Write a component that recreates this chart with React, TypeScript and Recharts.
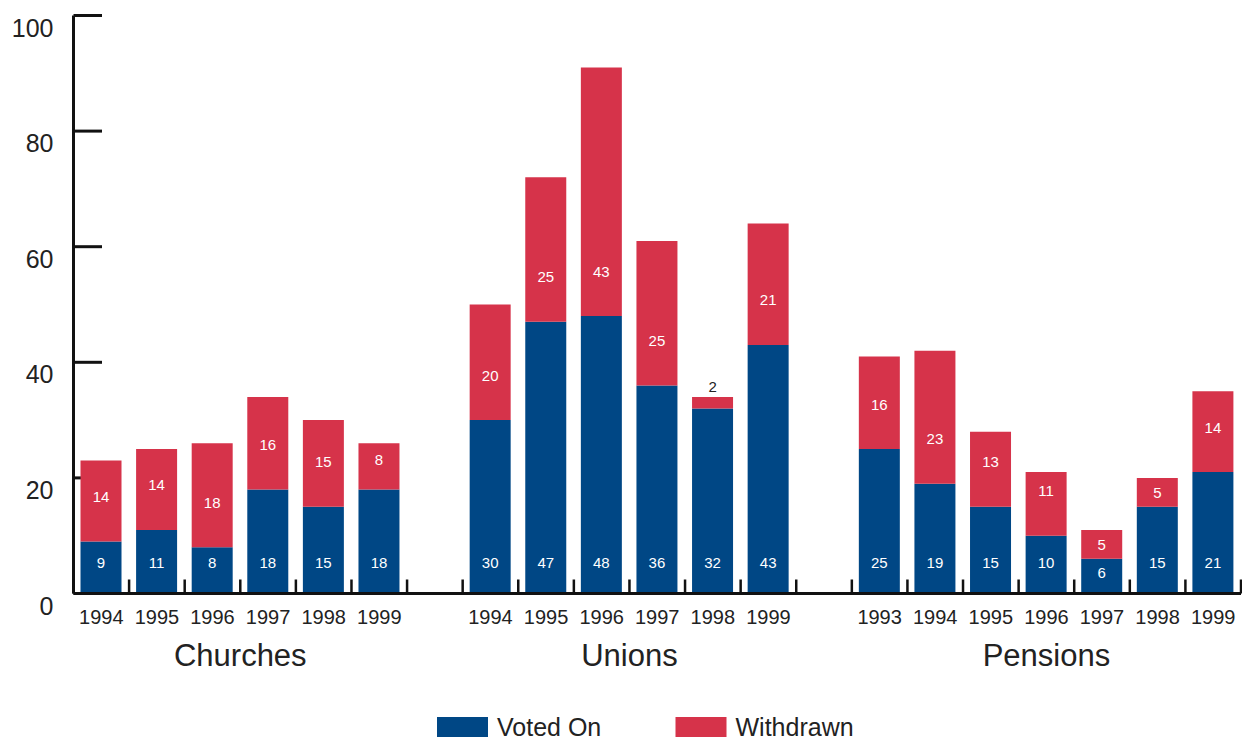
import React from 'react';
import { BarChart, Bar, XAxis, YAxis, LabelList, Legend, CartesianGrid } from 'recharts';

// Shareholder proposals by sponsor type, per proxy season
const churchYears = ['1994', '1995', '1996', '1997', '1998', '1999'];
const churchVoted = [9, 11, 8, 18, 15, 18];
const churchWithdrawn = [14, 14, 18, 16, 15, 8];

const unionYears = ['1994', '1995', '1996', '1997', '1998', '1999'];
const unionVoted = [30, 47, 48, 36, 32, 43];
const unionWithdrawn = [20, 25, 43, 25, 2, 21];

const pensionYears = ['1993', '1994', '1995', '1996', '1997', '1998', '1999'];
const pensionVoted = [25, 19, 15, 10, 6, 15, 21];
const pensionWithdrawn = [16, 23, 13, 11, 5, 5, 14];

const groupNames = ['Churches', 'Unions', 'Pensions'];
const seriesNames = ['Voted On', 'Withdrawn'];
const yTicks = [0, 20, 40, 60, 80, 100];

type Row = {
  key: string;
  year: string;
  voted?: number;
  withdrawn?: number;
  group?: string;
  groupSize?: number;
};

const groups = [
  { name: groupNames[0], years: churchYears, voted: churchVoted, withdrawn: churchWithdrawn },
  { name: groupNames[1], years: unionYears, voted: unionVoted, withdrawn: unionWithdrawn },
  { name: groupNames[2], years: pensionYears, voted: pensionVoted, withdrawn: pensionWithdrawn },
];

// One category per bar, with an empty category between sponsor groups
const rows: Row[] = [];
groups.forEach((g, gi) => {
  if (gi > 0) rows.push({ key: `gap-${gi}`, year: '' });
  g.years.forEach((yr, i) =>
    rows.push({
      key: `${g.name}-${yr}`,
      year: yr,
      voted: g.voted[i],
      withdrawn: g.withdrawn[i],
      group: i === 0 ? g.name : undefined,
      groupSize: g.years.length,
    })
  );
});
const rowByKey = new Map(rows.map((r) => [r.key, r]));

// Layout
const W = 1242;
const H = 740;
const PLOT_LEFT = 73.5;
const PLOT_TOP = 15.5;
const PLOT_BOTTOM = 593.5;
const RIGHT_MARGIN = 1;
const SLOT = (W - PLOT_LEFT - RIGHT_MARGIN) / rows.length;

const BLUE = '#004785';
const RED = '#d6334a';
const INK = '#222222';
const AXIS = '#111111';
const FONT = '"Liberation Sans", Arial, Helvetica, sans-serif';

function XTick(props: any) {
  const { x, y, payload } = props;
  const row = rowByKey.get(payload.value);
  if (!row) return null;
  const left = x - SLOT / 2;
  const isLast = row === rows[rows.length - 1];
  return (
    <g>
      <line x1={left} x2={left} y1={y} y2={y - 14} stroke={AXIS} strokeWidth={2.5} />
      {isLast && <line x1={x + SLOT / 2} x2={x + SLOT / 2} y1={y} y2={y - 14} stroke={AXIS} strokeWidth={2.5} />}
      {row.year && (
        <text x={x} y={y + 30} textAnchor="middle" fontSize={20} fill={INK} fontFamily={FONT}>
          {row.year}
        </text>
      )}
      {row.group && (
        <text
          x={x + ((row.groupSize ?? 1) - 1) * SLOT / 2}
          y={y + 72.5}
          textAnchor="middle"
          fontSize={31}
          fill={INK}
          fontFamily={FONT}
        >
          {row.group}
        </text>
      )}
    </g>
  );
}

function YTick(props: any) {
  const { x, y, payload } = props;
  return (
    <text x={x - 20} y={y + 21} textAnchor="end" fontSize={25} fill={INK} fontFamily={FONT}>
      {payload.value}
    </text>
  );
}

// Short inward tick marks on the value axis, drawn underneath the bars
function ValueTickMark(props: any) {
  const { x1, y1 } = props;
  return <line x1={x1} x2={x1 + 28.5} y1={y1} y2={y1} stroke={AXIS} strokeWidth={3} />;
}

function boxOf(props: any) {
  const vb = props.viewBox && props.viewBox.width != null ? props.viewBox : props;
  return { x: Number(vb.x), y: Number(vb.y), width: Number(vb.width), height: Number(vb.height) };
}

function VotedLabel(props: any) {
  const { value } = props;
  if (value == null) return null;
  const { x, y, width, height } = boxOf(props);
  const cy = y + height - Math.min(31, Math.max(height / 2, height - 14));
  return (
    <text x={x + width / 2} y={cy} textAnchor="middle" dominantBaseline="central" fontSize={15} fill="#ffffff" fontFamily={FONT}>
      {value}
    </text>
  );
}

function WithdrawnLabel(props: any) {
  const { value } = props;
  if (value == null) return null;
  const { x, y, width, height } = boxOf(props);
  const cx = x + width / 2;
  if (height < 16) {
    return (
      <text x={cx} y={y - 10} textAnchor="middle" dominantBaseline="central" fontSize={15} fill={INK} fontFamily={FONT}>
        {value}
      </text>
    );
  }
  const cy = y + height - Math.min(45, Math.max(height / 2, height - 16));
  return (
    <text x={cx} y={cy} textAnchor="middle" dominantBaseline="central" fontSize={15} fill="#ffffff" fontFamily={FONT}>
      {value}
    </text>
  );
}

const LEGEND_X = [437, 675.5];

function LegendContent(props: any) {
  const payload = props.payload ?? [];
  return (
    <svg width={W} height={30} style={{ display: 'block' }}>
      {payload.map((entry: any, i: number) => (
        <g key={entry.value}>
          <rect x={LEGEND_X[i]} y={5} width={51} height={20} fill={entry.color} />
          <text x={LEGEND_X[i] + 60} y={24} fontSize={25} fill={INK} fontFamily={FONT}>
            {entry.value}
          </text>
        </g>
      ))}
    </svg>
  );
}

export default function App() {
  return (
    <div style={{ width: W, height: H, background: '#ffffff' }}>
      <style>{`body { margin: 0; }`}</style>
      <BarChart
        width={W}
        height={H}
        data={rows}
        margin={{ top: PLOT_TOP, right: RIGHT_MARGIN, bottom: 0, left: 0 }}
        style={{ fontFamily: FONT }}
      >
        <CartesianGrid vertical={false} horizontal={(p: any) => <ValueTickMark key={`vt-${p.index ?? p.y1}`} {...p} />} />
        <YAxis
          width={PLOT_LEFT}
          domain={[0, 100]}
          ticks={yTicks}
          interval={0}
          tickSize={0}
          tickMargin={0}
          tickLine={false}
          axisLine={{ stroke: AXIS, strokeWidth: 3 }}
          tick={<YTick />}
        />
        <XAxis
          dataKey="key"
          height={H - PLOT_BOTTOM}
          interval={0}
          tickSize={0}
          tickMargin={0}
          tickLine={false}
          axisLine={{ stroke: AXIS, strokeWidth: 3 }}
          tick={<XTick />}
        />
        <Bar dataKey="voted" name={seriesNames[0]} stackId="s" fill={BLUE} barSize={41} isAnimationActive={false}>
          <LabelList dataKey="voted" content={<VotedLabel />} />
        </Bar>
        <Bar dataKey="withdrawn" name={seriesNames[1]} stackId="s" fill={RED} barSize={41} isAnimationActive={false}>
          <LabelList dataKey="withdrawn" content={<WithdrawnLabel />} />
        </Bar>
        <Legend
          layout="horizontal"
          verticalAlign="middle"
          align="center"
          wrapperStyle={{ left: 0, top: 712, width: W, height: 30 }}
          content={<LegendContent />}
        />
      </BarChart>
    </div>
  );
}
